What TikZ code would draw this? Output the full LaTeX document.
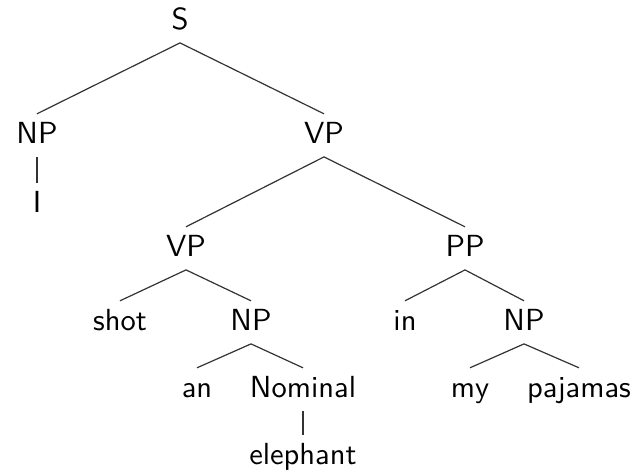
\documentclass[tikz,border=0pt]{standalone}
\usepackage{fontspec}
\usepackage{tikz}
\newfontfamily\treefont{lmsans10-regular.otf}

\tikzset{
  cat/.style={anchor=base, inner sep=6pt, text height=23pt, text depth=7.7pt,
              font=\treefont\fontsize{30.5}{36}\selectfont},
  branch/.style={line width=1.2pt, black!80}
}

\begin{document}
\begin{tikzpicture}[x=1pt, y=-1pt]
  \useasboundingbox (0,0) rectangle (639,474);

  % categories and words (base line positions)
  \node[cat] (S) at (180,29) {S};
  \node[cat] (NPa) at (37,143) {NP};
  \node[cat] (VPa) at (324,143) {VP};
  \node[cat] (I) at (37,212) {I};
  \node[cat] (VPb) at (186,256) {VP};
  \node[cat] (PP) at (465,256) {PP};
  \node[cat] (shot) at (120,330) {shot};
  \node[cat] (NPb) at (251,330) {NP};
  \node[cat] (in) at (405,330) {in};
  \node[cat] (NPc) at (524,330) {NP};
  \node[cat] (an) at (197,397) {an};
  \node[cat] (Nom) at (303,397) {Nominal};
  \node[cat] (my) at (470,397) {my};
  \node[cat] (paj) at (579,397) {pajamas};
  \node[cat] (eleph) at (303,464) {elephant};

  % branches
  \draw[branch] (S.south) -- (NPa.north);
  \draw[branch] (S.south) -- (VPa.north);
  \draw[branch] (NPa.south) -- (I.north);
  \draw[branch] (VPa.south) -- (VPb.north);
  \draw[branch] (VPa.south) -- (PP.north);
  \draw[branch] (VPb.south) -- (shot.north);
  \draw[branch] (VPb.south) -- (NPb.north);
  \draw[branch] (PP.south) -- (in.north);
  \draw[branch] (PP.south) -- (NPc.north);
  \draw[branch] (NPb.south) -- (an.north);
  \draw[branch] (NPb.south) -- (Nom.north);
  \draw[branch] (NPc.south) -- (my.north);
  \draw[branch] (NPc.south) -- (paj.north);
  \draw[branch] (Nom.south) -- (eleph.north);
\end{tikzpicture}
\end{document}
